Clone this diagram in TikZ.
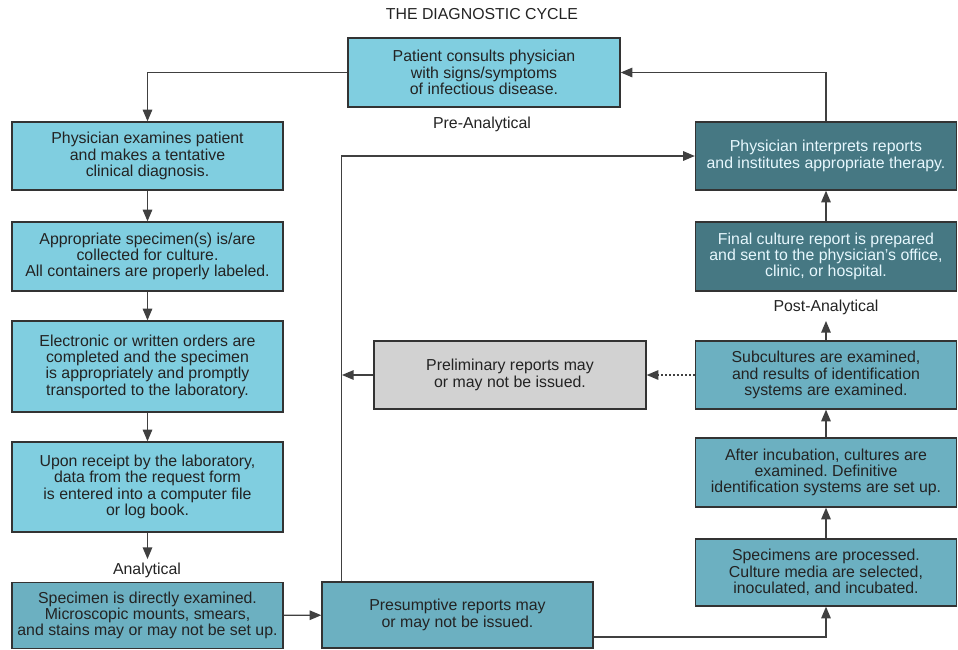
\documentclass[tikz,border=0pt]{standalone}
\usepackage{fontspec}
\setmainfont{Liberation Sans}
\usepackage{tikz}
\usetikzlibrary{shapes,arrows}
\frenchspacing
\definecolor{lightcyan}{RGB}{128,206,224}
\definecolor{midteal}{RGB}{108,176,193}
\definecolor{darkteal}{RGB}{70,120,131}
\definecolor{paleGray}{RGB}{210,210,210}
\definecolor{inkgray}{RGB}{35,35,35}
\tikzstyle{box} = [draw=black!80, line width=1.1pt, text centered, align=center, inner sep=0pt, font=\fontsize{11.9}{12.2}\selectfont, text=inkgray]
\tikzstyle{lightbox} = [box, fill=lightcyan]
\tikzstyle{midbox} = [box, fill=midteal]
\tikzstyle{darkbox} = [box, fill=darkteal, text=white!90!cyan]
\tikzstyle{graybox} = [box, fill=paleGray]
\tikzstyle{phase} = [font=\fontsize{11.9}{12}\selectfont, text=inkgray]
\tikzstyle{link} = [draw=black!75, line width=1pt, -triangle 45]

\begin{document}
\begin{tikzpicture}[x=0.75pt,y=-0.75pt]
\useasboundingbox (0,0) rectangle (958,650);
\node[phase] (title) at (482,14) {THE DIAGNOSTIC CYCLE};
% pre-analytical column
\node[lightbox, minimum width=204pt, minimum height=51.75pt] (patient) at (484,72.5) {Patient consults physician\\with signs/symptoms\\of infectious disease.};
\node[phase] (pre) at (482,124) {Pre-Analytical};
\node[lightbox, minimum width=203.25pt, minimum height=51pt] (exam) at (147.5,156) {Physician examines patient\\and makes a tentative\\clinical diagnosis.};
\node[lightbox, minimum width=203.25pt, minimum height=51.75pt] (collect) at (147.5,256.5) {Appropriate specimen(s) is/are\\collected for culture.\\All containers are properly labeled.};
\node[lightbox, minimum width=203.25pt, minimum height=68.25pt] (orders) at (147.5,366.5) {Electronic or written orders are\\completed and the specimen\\is appropriately and promptly\\transported to the laboratory.};
\node[lightbox, minimum width=203.25pt, minimum height=67.5pt] (receipt) at (147.5,487) {Upon receipt by the laboratory,\\data from the request form\\is entered into a computer file\\or log book.};
% analytical
\node[phase] (ana) at (147,570) {Analytical};
\coordinate (anatop) at (147.5,559);
\node[midbox, minimum width=203.25pt, minimum height=49.5pt] (direct) at (147.5,615.5) {Specimen is directly examined.\\Microscopic mounts, smears,\\and stains may or may not be set up.};
\node[midbox, minimum width=203.25pt, minimum height=49.5pt] (presumptive) at (457.5,615) {Presumptive reports may\\or may not be issued.};
\node[graybox, minimum width=204pt, minimum height=51pt] (prelim) at (510,375) {Preliminary reports may\\or may not be issued.};
\coordinate (bus) at (342,375);
\node[midbox, minimum width=195.75pt, minimum height=50.25pt] (processed) at (826,572.5) {Specimens are processed.\\Culture media are selected,\\inoculated, and incubated.};
\node[midbox, minimum width=195.75pt, minimum height=51.75pt] (incub) at (826,472.5) {After incubation, cultures are\\examined. Definitive\\identification systems are set up.};
\node[midbox, minimum width=195.75pt, minimum height=51pt] (subcult) at (826,375) {Subcultures are examined,\\and results of identification\\systems are examined.};
% post-analytical
\node[phase] (post) at (826,307) {Post-Analytical};
\coordinate (posttop) at (826,321);
\node[darkbox, minimum width=195.75pt, minimum height=51.75pt] (final) at (826,256.5) {Final culture report is prepared\\and sent to the physician's office,\\clinic, or hospital.};
\node[darkbox, minimum width=195.75pt, minimum height=51pt] (interpret) at (826,156) {Physician interprets reports\\and institutes appropriate therapy.};

\draw[link] (patient.west) -| (exam.north);
\draw[link] (exam) -- (collect);
\draw[link] (collect) -- (orders);
\draw[link] (orders) -- (receipt);
\draw[link] (receipt) -- (anatop);
\draw[link] (direct) -- (presumptive);
\draw[link] (presumptive.north west) ++(20,0) |- (interpret.west);
\draw[link] (presumptive.east) ++(0,22) -| (processed.south);
\draw[link] (processed) -- (incub);
\draw[link] (incub) -- (subcult);
\draw[link] (subcult) -- (posttop);
\draw[link] (final) -- (interpret);
\draw[link] (interpret.north) |- (patient.east);
\draw[link, dotted] (subcult) -- (prelim);
\draw[link] (prelim) -- (bus);
\end{tikzpicture}
\end{document}
